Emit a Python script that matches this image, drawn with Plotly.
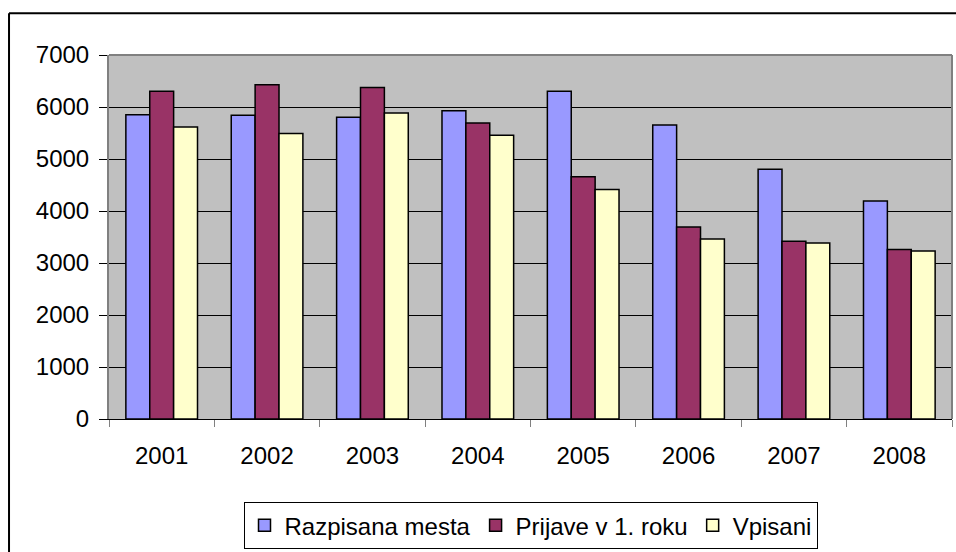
import plotly.graph_objects as go

# data
years = ["2001", "2002", "2003", "2004", "2005", "2006", "2007", "2008"]
razpisana_mesta = [5850, 5840, 5805, 5930, 6305, 5655, 4805, 4190]
prijave_1_rok = [6305, 6430, 6375, 5690, 4660, 3690, 3420, 3260]
vpisani = [5615, 5490, 5885, 5455, 4415, 3460, 3385, 3230]

y_ticks = [0, 1000, 2000, 3000, 4000, 5000, 6000, 7000]

FONT = "Liberation Sans, Arial, sans-serif"

fig = go.Figure()

series = [
    ("Razpisana mesta", razpisana_mesta, "#9999FF"),
    ("Prijave v 1. roku", prijave_1_rok, "#993366"),
    ("Vpisani", vpisani, "#FFFFCC"),
]
for name, vals, color in series:
    fig.add_trace(go.Bar(
        x=years, y=vals, name=name,
        marker=dict(color=color, line=dict(color="#000000", width=1.5)),
    ))

fig.update_layout(
    width=956, height=552,
    margin=dict(l=109, r=4, t=55, b=132),
    paper_bgcolor="white",
    plot_bgcolor="#C0C0C0",
    font=dict(family=FONT, size=24, color="#000000"),
    barmode="group",
    bargap=0.32,
    bargroupgap=0,
    legend=dict(
        orientation="h",
        x=0.5, xanchor="center",
        y=-0.225, yanchor="top",
        bgcolor="white",
        bordercolor="#000000", borderwidth=1,
        font=dict(family=FONT, size=24),
        itemwidth=30,
        traceorder="normal",
    ),
)

fig.update_xaxes(
    type="category",
    showgrid=False,
    showline=True, linecolor="#000000", linewidth=1,
    ticks="outside", tickson="boundaries", ticklen=7,
    tickcolor="#808080", tickwidth=1,
    ticklabelstandoff=15,
)
fig.update_yaxes(
    range=[0, 7000],
    tickvals=y_ticks,
    showgrid=True, gridcolor="#000000", gridwidth=1,
    zeroline=False,
    showline=True, linecolor="#808080", linewidth=2,
    ticks="outside", ticklen=8, tickcolor="#000000", tickwidth=1,
    ticklabelstandoff=5,
)

# grey border on top and right of the plot area
fig.add_shape(type="line", xref="paper", yref="paper", x0=0, x1=1, y0=1, y1=1,
              line=dict(color="#808080", width=2))
fig.add_shape(type="line", xref="paper", yref="paper", x0=1, x1=1, y0=0, y1=1,
              line=dict(color="#808080", width=2))

# outer chart frame: only top and left edges are visible in the picture
fig.add_shape(type="line", xref="paper", yref="paper",
              x0=-0.1186, x1=1.2, y0=1.115, y1=1.115,
              line=dict(color="#000000", width=2), layer="above")
fig.add_shape(type="line", xref="paper", yref="paper",
              x0=-0.1186, x1=-0.1186, y0=-0.7, y1=1.115,
              line=dict(color="#000000", width=2), layer="above")

# drop the default 8px body margin so the figure fills the window exactly
fig.write_html(
    "out.html",
    config={"displayModeBar": False},
    post_script="document.body.style.margin='0';document.body.style.overflow='hidden';",
)
